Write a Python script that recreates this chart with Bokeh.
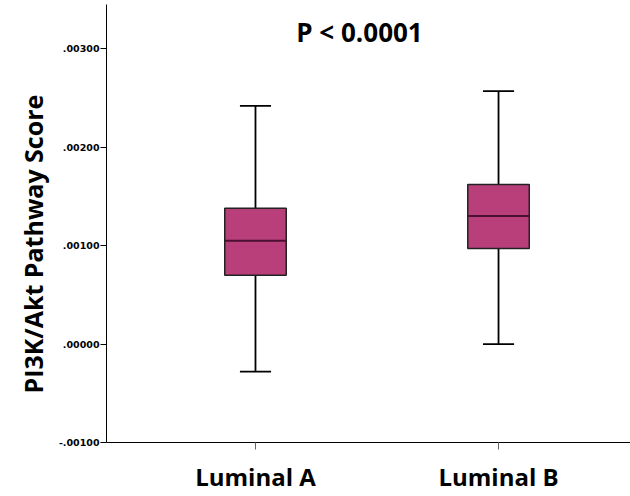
from bokeh.plotting import figure
from bokeh.models import Range1d, FixedTicker, CustomJSTickFormatter, Label, Title, ColumnDataSource
from bokeh.embed import file_html
from bokeh.resources import INLINE

# Data
categories = ["Luminal A", "Luminal B"]
cat_pos = [1, 2]
whisker_low = [-0.00028, 0.00000]
q1 = [0.00070, 0.00097]
median = [0.00105, 0.00130]
q3 = [0.00138, 0.00162]
whisker_high = [0.00242, 0.00257]
y_ticks = [-0.001, 0.0, 0.001, 0.002, 0.003]

box_w = 0.253
cap_w = 0.128

src = ColumnDataSource(dict(
    x=cat_pos, lo=whisker_low, q1=q1, med=median, q3=q3, hi=whisker_high,
    bx0=[c - box_w / 2 for c in cat_pos], bx1=[c + box_w / 2 for c in cat_pos],
    cx0=[c - cap_w / 2 for c in cat_pos], cx1=[c + cap_w / 2 for c in cat_pos],
))

p = figure(width=630, height=496, output_backend="svg", toolbar_location=None,
           x_range=Range1d(0.387, 2.543), y_range=Range1d(-0.001, 0.00345),
           min_border_left=106, min_border_bottom=54, min_border_top=4, min_border_right=0)
p.outline_line_color = None
p.xgrid.visible = False
p.ygrid.visible = False
p.background_fill_color = "white"
p.border_fill_color = "white"

# whiskers
p.segment(x0="x", y0="lo", x1="x", y1="q1", source=src, line_color="black", line_width=1.8)
p.segment(x0="x", y0="q3", x1="x", y1="hi", source=src, line_color="black", line_width=1.8)
p.segment(x0="cx0", y0="lo", x1="cx1", y1="lo", source=src, line_color="black", line_width=1.8)
p.segment(x0="cx0", y0="hi", x1="cx1", y1="hi", source=src, line_color="black", line_width=1.8)
# boxes
p.vbar(x="x", width=box_w, bottom="q1", top="q3", source=src,
       fill_color="#B93F7B", line_color="#222222", line_width=1.5)
p.segment(x0="bx0", y0="med", x1="bx1", y1="med", source=src, line_color="#4a1030", line_width=2)

# y axis
p.yaxis.ticker = FixedTicker(ticks=y_ticks)
p.yaxis.formatter = CustomJSTickFormatter(code="""
const s = Math.abs(tick).toFixed(5).replace(/^0/, '');
return (tick < -1e-12 ? '-' : '') + s;
""")
p.yaxis.major_tick_out = 6
p.yaxis.major_tick_in = 0
p.yaxis.minor_tick_line_color = None
p.yaxis.axis_line_color = "black"
p.yaxis.major_tick_line_color = "black"
p.yaxis.major_label_standoff = 1
p.yaxis.major_label_text_font = "DejaVu Sans"
p.yaxis.major_label_text_font_style = "bold"
p.yaxis.major_label_text_font_size = "9.5px"
p.yaxis.major_label_text_color = "black"

# x axis
p.xaxis.ticker = FixedTicker(ticks=cat_pos)
p.xaxis.major_label_overrides = {c: n for c, n in zip(cat_pos, categories)}
p.xaxis.major_tick_out = 7
p.xaxis.major_tick_in = 0
p.xaxis.minor_tick_line_color = None
p.xaxis.axis_line_color = "black"
p.xaxis.major_tick_line_color = "#666666"
p.xaxis.major_label_standoff = 10
p.xaxis.major_label_text_font = "Open Sans"
p.xaxis.major_label_text_font_style = "bold"
p.xaxis.major_label_text_font_size = "24px"
p.xaxis.major_label_text_color = "black"

# y axis title in the left panel
p.add_layout(Title(text="PI3K/Akt Pathway Score", align="left", offset=49, standoff=12,
                   text_font="Open Sans", text_font_style="bold", text_font_size="25px",
                   text_color="black"), "left")

p.add_layout(Label(x=1.428, y=0.003168, text="P < 0.0001", text_align="center",
                   text_baseline="middle", text_font="Open Sans", text_font_style="bold",
                   text_font_size="26px", text_color="black"))

open("out.html", "w").write(file_html(p, INLINE))
